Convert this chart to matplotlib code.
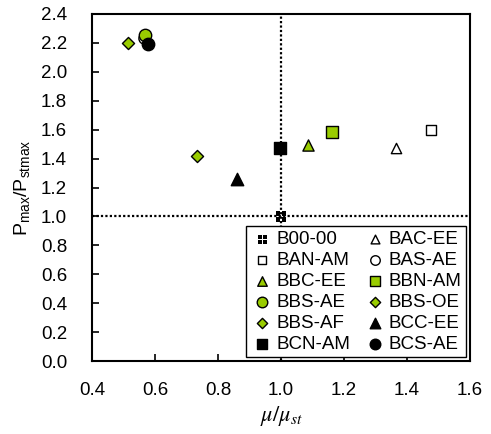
import matplotlib
matplotlib.use("Agg")
import matplotlib.pyplot as plt
from matplotlib.path import Path
import numpy as np

plt.rcParams['font.family'] = ['Liberation Sans', 'DejaVu Sans']
plt.rcParams['mathtext.fontset'] = 'stix'

GREEN = '#99cc00'

# series: name, mu/mu_st, Pmax/Pstmax
names = ['B00-00', 'BAC-EE', 'BAN-AM', 'BAS-AE', 'BBC-EE', 'BBN-AM',
         'BBS-AE', 'BBS-OE', 'BBS-AF', 'BCC-EE', 'BCN-AM', 'BCS-AE']
mu = [1.00, 1.365, 1.475, 0.565, 1.087, 1.163, 0.568, 0.733, 0.514, 0.860, 0.997, 0.578]
pmax = [1.00, 1.475, 1.600, 2.235, 1.494, 1.582, 2.255, 1.420, 2.200, 1.262, 1.475, 2.195]


def quad_square():
    # black square split by a white cross
    g = 0.12
    verts, codes = [], []
    for x0, x1 in [(-1, -g), (g, 1)]:
        for y0, y1 in [(-1, -g), (g, 1)]:
            verts += [(x0, y0), (x1, y0), (x1, y1), (x0, y1), (x0, y0)]
            codes += [Path.MOVETO, Path.LINETO, Path.LINETO, Path.LINETO, Path.CLOSEPOLY]
    return Path(verts, codes)


styles = {
    'B00-00': dict(marker=quad_square(), s=55, fc='black', ec='none'),
    'BAC-EE': dict(marker='^', s=55, fc='white', ec='black'),
    'BAN-AM': dict(marker='s', s=55, fc='white', ec='black'),
    'BAS-AE': dict(marker='o', s=65, fc='white', ec='black'),
    'BBC-EE': dict(marker='^', s=65, fc=GREEN, ec='black'),
    'BBN-AM': dict(marker='s', s=70, fc=GREEN, ec='black'),
    'BBS-AE': dict(marker='o', s=80, fc=GREEN, ec='black'),
    'BBS-OE': dict(marker='D', s=38, fc=GREEN, ec='black'),
    'BBS-AF': dict(marker='D', s=38, fc=GREEN, ec='black'),
    'BCC-EE': dict(marker='^', s=80, fc='black', ec='black'),
    'BCN-AM': dict(marker='s', s=80, fc='black', ec='black'),
    'BCS-AE': dict(marker='o', s=80, fc='black', ec='black'),
}

fig = plt.figure(figsize=(4.91, 4.34), dpi=100)
ax = fig.add_axes([92 / 491, 1 - 361 / 434, 378 / 491, 347 / 434])

ax.axvline(1.0, color='black', ls=(0, (1, 1)), lw=1.6, zorder=1)
ax.axhline(1.0, color='black', ls=(0, (1, 1)), lw=1.6, zorder=1)

draw_order = [3, 0, 1, 2, 4, 5, 6, 7, 8, 9, 10, 11]
handles = {}
for i in draw_order:
    st = styles[names[i]]
    h = ax.scatter([mu[i]], [pmax[i]], marker=st['marker'], s=st['s'],
                   facecolors=st['fc'], edgecolors=st['ec'], linewidths=1.0,
                   zorder=3, label=names[i])
    handles[names[i]] = h

ax.set_xlim(0.4, 1.6)
ax.set_ylim(0.0, 2.4)
ax.set_xticks(np.arange(0.4, 1.61, 0.2))
ax.set_yticks(np.arange(0.0, 2.41, 0.2))
ax.xaxis.set_major_formatter(plt.FormatStrFormatter('%.1f'))
ax.yaxis.set_major_formatter(plt.FormatStrFormatter('%.1f'))
ax.tick_params(direction='in', length=5, width=1.2, labelsize=13.5)
ax.tick_params(axis='y', pad=18)
ax.tick_params(axis='x', pad=15)
for sp in ax.spines.values():
    sp.set_linewidth(1.5)

ax.set_xlabel(r'$\mu/\mu_{st}$', fontsize=16, labelpad=4)
ax.set_ylabel(r'$\mathregular{P_{max}/P_{stmax}}$', fontsize=14, labelpad=6)

# legend is filled row by row in the reference
order = names[0::2] + names[1::2]
leg = ax.legend([handles[n] for n in order], order, ncol=2, loc='lower right',
                fontsize=13.5, frameon=True, fancybox=False, edgecolor='black',
                framealpha=1, handletextpad=0.15, columnspacing=0.7,
                labelspacing=0.2, borderpad=0.25, handlelength=1.2,
                borderaxespad=0.2, scatterpoints=1, markerscale=0.85)
leg.get_frame().set_linewidth(1.0)

fig.savefig('out.png', dpi=100)
